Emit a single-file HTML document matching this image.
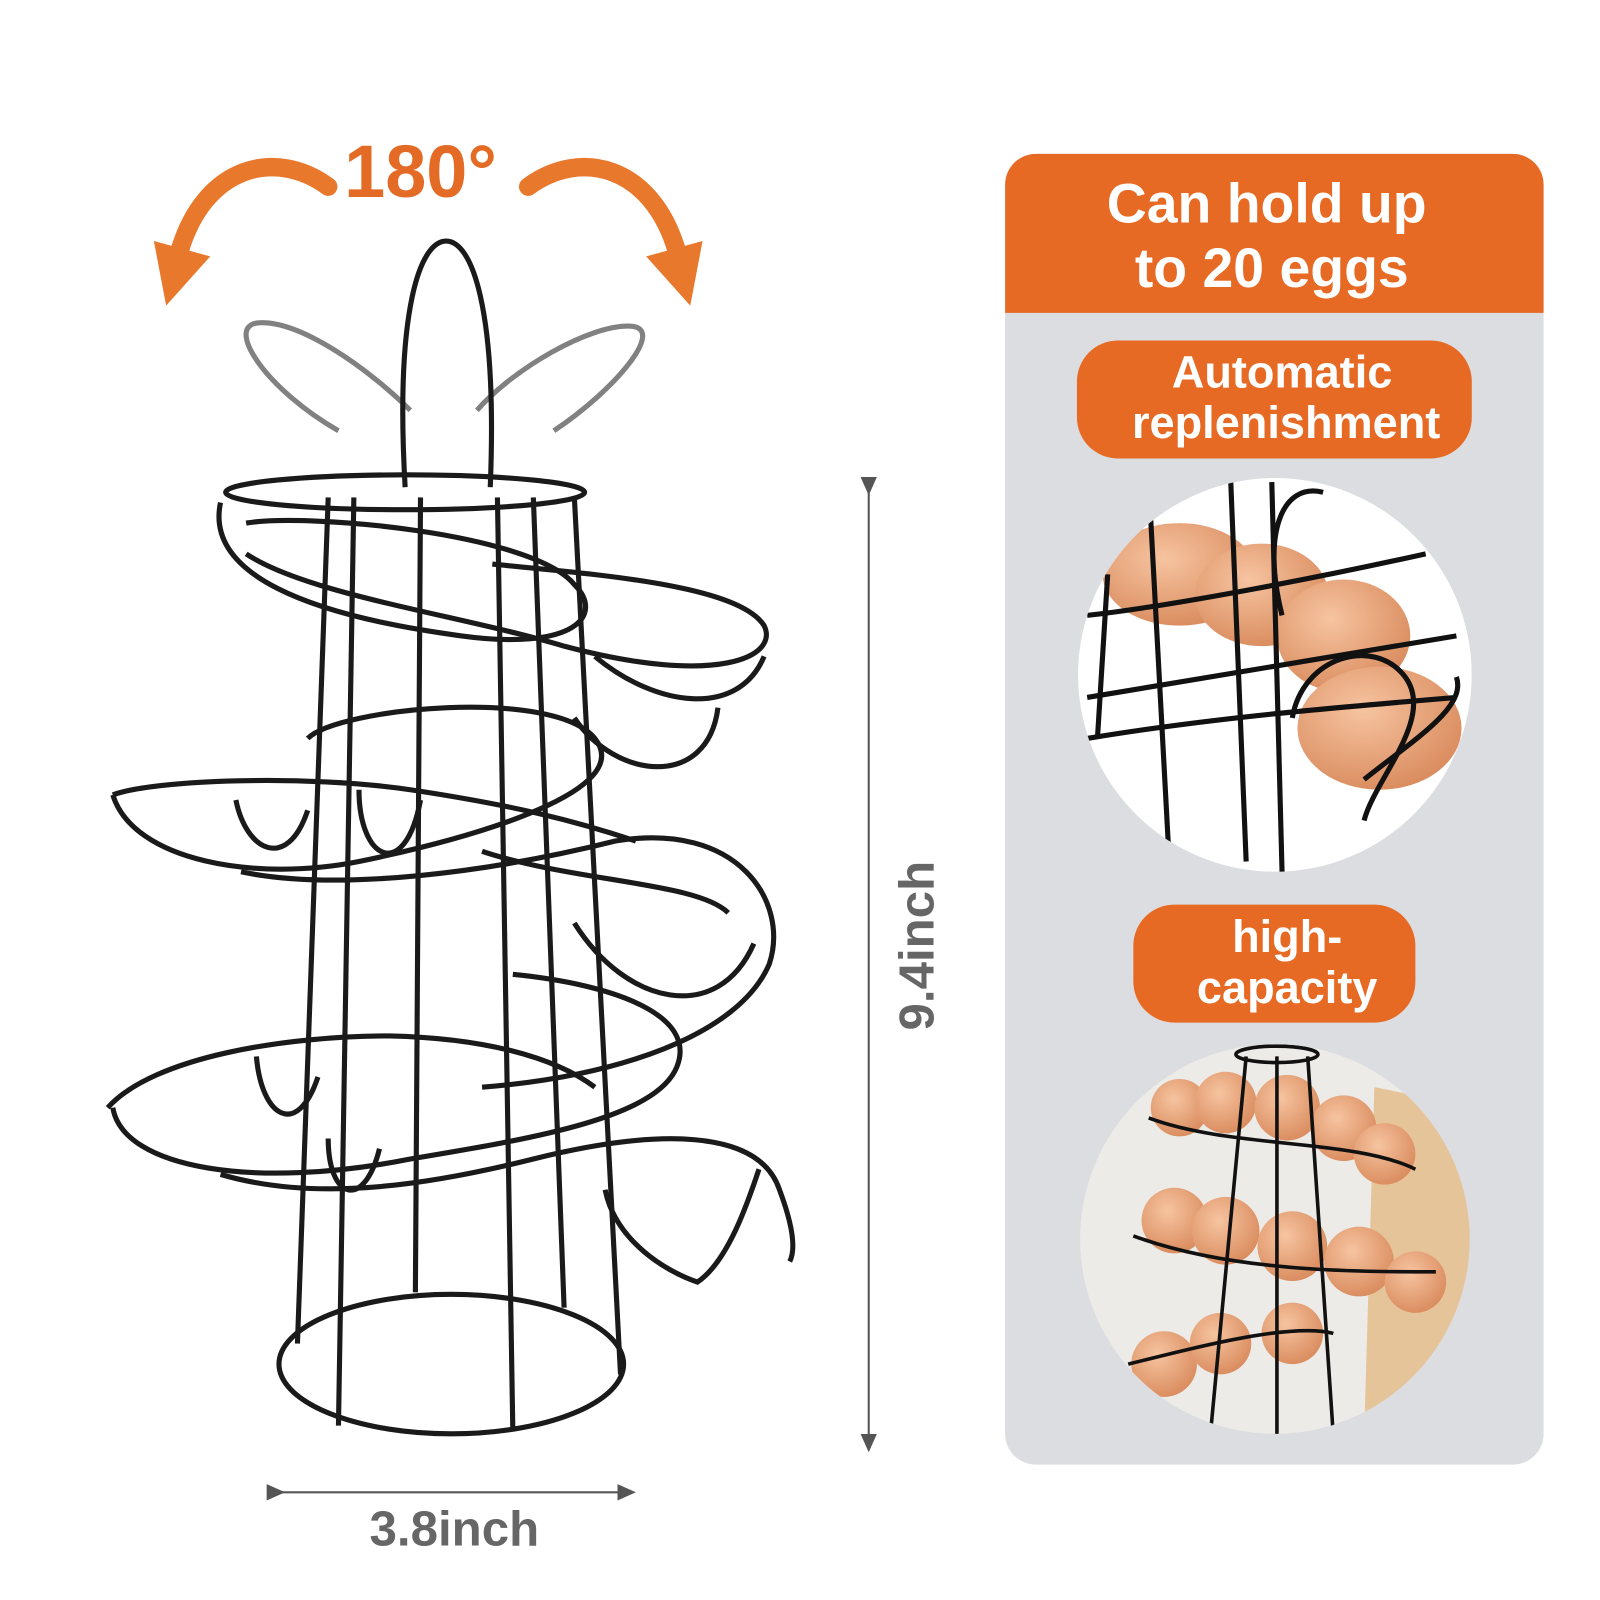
<!DOCTYPE html>
<html><head><meta charset="utf-8"><style>
html,body{margin:0;padding:0;background:#fff;width:1600px;height:1600px;overflow:hidden}
svg{display:block}
text{font-family:"Liberation Sans",sans-serif;font-weight:bold}
</style></head><body>
<svg width="1600" height="1600" viewBox="0 0 1560 1560" xmlns="http://www.w3.org/2000/svg">
<defs>
<marker id="ah" markerWidth="10" markerHeight="10" refX="5" refY="5" orient="auto"><path d="M0,1 L9,5 L0,9 z" fill="#555"/></marker>
<clipPath id="c1"><circle cx="1243" cy="658" r="192"/></clipPath>
<clipPath id="c2"><circle cx="1243" cy="1208" r="190"/></clipPath>
<radialGradient id="egg" cx="0.4" cy="0.35" r="0.7"><stop offset="0" stop-color="#f6c4a0"/><stop offset="1" stop-color="#d98a5c"/></radialGradient>
</defs>

<!-- rotation label -->
<g>
<text x="410" y="192" font-size="72" fill="#e36b25" text-anchor="middle">180°</text>
<path d="M320,182 C270,145 200,160 175,245" fill="none" stroke="#e8782c" stroke-width="18" stroke-linecap="round"/>
<path d="M150,235 L162,298 L205,250 z" fill="#e8782c"/>
<path d="M515,182 C565,145 635,160 660,245" fill="none" stroke="#e8782c" stroke-width="18" stroke-linecap="round"/>
<path d="M685,235 L673,298 L630,250 z" fill="#e8782c"/>
</g>

<!-- egg rack -->
<g fill="none" stroke="#1a1a1a" stroke-width="5">
<g opacity="0.55">
<path d="M330,420 C260,380 220,320 250,315 C290,310 360,360 400,400"/>
<path d="M540,420 C600,380 650,320 615,318 C575,316 500,360 465,400"/>
</g>
<path d="M395,475 C385,300 410,235 435,235 C460,235 485,300 478,475"/>
<ellipse cx="395" cy="480" rx="175" ry="17"/>
<ellipse cx="440" cy="1330" rx="168" ry="68"/>
<path d="M320,485 L290,1310 M345,485 L330,1390 M410,485 L405,1260 M485,485 L500,1395 M520,485 L550,1275 M560,485 L605,1340"/>
<path d="M215,490 C200,560 300,600 450,620 C560,635 590,600 560,570 C520,520 300,500 240,510"/>
<path d="M240,540 C300,580 450,600 550,630 C700,670 760,640 745,610 C720,570 580,560 480,550"/>
<path d="M580,640 C640,690 720,700 745,640 M560,700 C600,760 690,770 700,690"/>
<path d="M110,775 C130,840 250,860 350,840 C470,815 620,770 580,720 C540,670 330,690 300,720"/>
<path d="M110,775 C150,760 300,755 400,770 C500,785 560,800 620,820"/>
<path d="M235,850 C330,870 480,850 600,820 C720,800 770,880 750,940 C720,1010 600,1050 470,1060"/>
<path d="M470,830 C560,860 680,860 710,890 M560,900 C610,980 700,1000 735,920"/>
<path d="M110,1080 C120,1140 250,1160 400,1130 C520,1110 640,1090 660,1040 C680,990 600,960 500,950"/>
<path d="M105,1080 C150,1030 280,1010 380,1010 C470,1012 540,1030 580,1060"/>
<path d="M215,1145 C300,1170 400,1160 520,1130 C640,1100 740,1100 760,1160 C775,1200 775,1220 770,1230"/>
<path d="M590,1160 C600,1210 650,1240 680,1250 C710,1230 730,1170 740,1140"/>
<path d="M230,780 C240,830 280,850 300,790 M350,770 C350,840 395,860 410,780 M250,1030 C255,1090 290,1110 310,1050 M320,1110 C320,1170 355,1180 370,1120"/>
</g>

<!-- dimensions -->
<g>
<line x1="847" y1="475" x2="847" y2="1408" stroke="#555" stroke-width="2" marker-start="url(#ah)" marker-end="url(#ah)"/>
<text transform="translate(910,922) rotate(-90)" font-size="48" fill="#666" text-anchor="middle">9.4inch</text>
</g>
<g>
<line x1="270" y1="1455" x2="612" y2="1455" stroke="#555" stroke-width="2" marker-start="url(#ah)" marker-end="url(#ah)"/>
<text x="443" y="1507" font-size="48" fill="#666" text-anchor="middle">3.8inch</text>
</g>

<!-- right panel -->
<g>
<rect x="980" y="150" width="525" height="1278" rx="30" fill="#dcdde0"/>
<path d="M1010,150 H1475 A30,30 0 0 1 1505,180 V305 H980 V180 A30,30 0 0 1 1010,150 z" fill="#e66a24"/>
<text x="1235" y="217" font-size="54" fill="#fff" text-anchor="middle" font-weight="normal" style="font-weight:600">Can hold up</text>
<text x="1240" y="280" font-size="54" fill="#fff" text-anchor="middle">to 20 eggs</text>

<rect x="1050" y="332" width="385" height="115" rx="40" fill="#e66a24"/>
<text x="1250" y="378" font-size="44" fill="#fff" text-anchor="middle">Automatic</text>
<text x="1254" y="427" font-size="44" fill="#fff" text-anchor="middle">replenishment</text>

<g clip-path="url(#c1)">
<circle cx="1243" cy="658" r="192" fill="#fff"/>
<ellipse cx="1150" cy="560" rx="75" ry="50" fill="url(#egg)"/>
<ellipse cx="1230" cy="580" rx="65" ry="50" fill="url(#egg)"/>
<ellipse cx="1310" cy="620" rx="65" ry="55" fill="url(#egg)"/>
<ellipse cx="1345" cy="710" rx="80" ry="60" fill="url(#egg)"/>
<g fill="none" stroke="#111" stroke-width="5">
<path d="M1060,600 C1150,590 1300,560 1390,540 M1060,680 C1180,660 1300,640 1420,620 M1060,720 C1180,700 1300,690 1420,680"/>
<path d="M1120,470 L1140,840 M1200,470 L1215,840 M1240,470 L1250,850 M1080,560 L1070,720"/>
<path d="M1250,600 C1230,520 1250,470 1290,480 M1260,700 C1270,640 1340,620 1370,660 C1400,700 1340,760 1330,800 M1330,760 C1380,720 1430,690 1420,660"/>
</g>
</g>

<rect x="1105" y="882" width="275" height="115" rx="40" fill="#e66a24"/>
<text x="1255" y="928" font-size="44" fill="#fff" text-anchor="middle">high-</text>
<text x="1255" y="978" font-size="44" fill="#fff" text-anchor="middle">capacity</text>

<g clip-path="url(#c2)">
<circle cx="1243" cy="1208" r="190" fill="#ecebe8"/>
<path d="M1340,1060 L1440,1080 L1440,1400 L1330,1400 z" fill="#e6c49a"/>
<g fill="url(#egg)">
<circle cx="1150" cy="1080" r="28"/><circle cx="1195" cy="1075" r="30"/><circle cx="1255" cy="1080" r="32"/><circle cx="1310" cy="1100" r="32"/><circle cx="1350" cy="1125" r="30"/>
<circle cx="1145" cy="1190" r="32"/><circle cx="1195" cy="1200" r="33"/><circle cx="1260" cy="1215" r="34"/><circle cx="1325" cy="1230" r="34"/><circle cx="1380" cy="1250" r="30"/>
<circle cx="1135" cy="1330" r="32"/><circle cx="1190" cy="1310" r="30"/><circle cx="1260" cy="1300" r="30"/>
</g>
<g fill="none" stroke="#111" stroke-width="3.5">
<ellipse cx="1245" cy="1028" rx="40" ry="8"/>
<path d="M1120,1090 C1200,1120 1320,1110 1380,1140 M1105,1205 C1200,1240 1320,1240 1400,1240 M1100,1330 C1180,1310 1260,1290 1300,1300"/>
<path d="M1215,1030 L1180,1400 M1245,1030 L1245,1400 M1275,1030 L1300,1400"/>
</g>
</g>
</g>
</svg>
</body></html>
